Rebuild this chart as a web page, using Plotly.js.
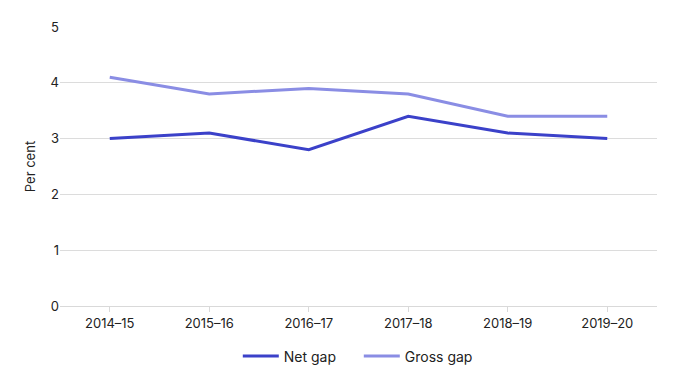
<!DOCTYPE html>
<html>
<head>
<meta charset="utf-8">
<script src="https://cdn.plot.ly/plotly-3.0.1.min.js"></script>
<style>html,body{margin:0;padding:0;background:#fff;}#chart{width:690px;height:380px;}</style>
</head>
<body>
<div id="chart"></div>
<script>
const years = ["2014–15", "2015–16", "2016–17", "2017–18", "2018–19", "2019–20"];
const netGap = [3.0, 3.1, 2.8, 3.4, 3.1, 3.0];
const grossGap = [4.1, 3.8, 3.9, 3.8, 3.4, 3.4];
const yTicks = [0, 1, 2, 3, 4, 5];

const data = [
  {x: years, y: netGap, name: "Net gap", type: "scatter", mode: "lines",
   line: {color: "#3b41c9", width: 3}},
  {x: years, y: grossGap, name: "Gross gap", type: "scatter", mode: "lines",
   line: {color: "#8a8de4", width: 3}}
];
const layout = {
  width: 690, height: 380,
  margin: {l: 60, r: 33, t: 27, b: 74, autoexpand: false},
  paper_bgcolor: "#fff", plot_bgcolor: "#fff",
  font: {family: "Inter, Roboto, sans-serif", size: 13, color: "#222"},
  xaxis: {type: "category", range: [-0.5, 5.5], showgrid: false, zeroline: false,
          showline: true, linecolor: "#d9d9d9", linewidth: 1, automargin: false,
          ticks: "outside", ticklen: 5, tickcolor: "#d9d9d9", tickfont: {size: 13, color: "#222"}},
  yaxis: {range: [0, 5], tickvals: yTicks, showgrid: true, gridcolor: "#dcdcdc", gridwidth: 1,
          zeroline: false, ticks: "", ticklen: 0, tickfont: {size: 13, color: "#222"}, automargin: false,
          title: {text: "Per cent", font: {size: 13, color: "#222"}, standoff: 12}},
  showlegend: true,
  legend: {orientation: "h", x: 0.52, xanchor: "center", xref: "container", yref: "container",
           y: 0.062, yanchor: "middle", entrywidth: 70,
           font: {size: 14, color: "#222"}, itemwidth: 36}
};
Plotly.newPlot("chart", data, layout, {displayModeBar: false, staticPlot: true});
</script>
</body>
</html>
